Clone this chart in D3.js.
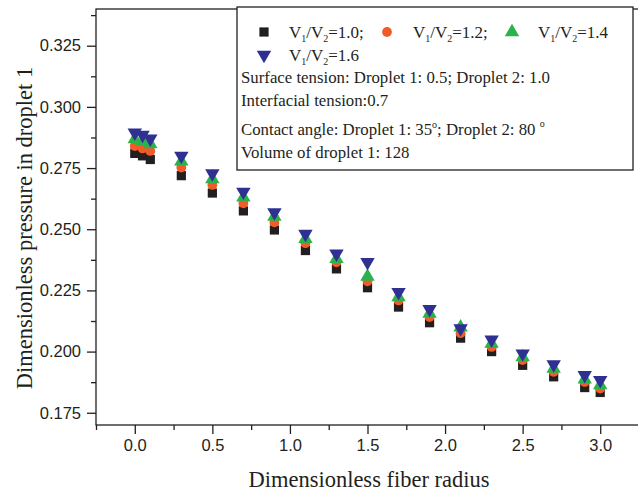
<!DOCTYPE html>
<html><head><meta charset="utf-8">
<script src="https://cdn.jsdelivr.net/npm/d3@7/dist/d3.min.js"></script>
<style>body{margin:0;background:#fff}svg{display:block}</style>
</head><body><svg id="c" width="638" height="494"></svg>
<script>
const radius = [0, 0.05, 0.1, 0.3, 0.5, 0.7, 0.9, 1.1, 1.3, 1.5, 1.7, 1.9, 2.1, 2.3, 2.5, 2.7, 2.9, 3.0];
const ratio10 = [0.2810, 0.2800, 0.2785, 0.2719, 0.2648, 0.2575, 0.2497, 0.2413, 0.2338, 0.2261, 0.2182, 0.2118, 0.2055, 0.2000, 0.1944, 0.1897, 0.1853, 0.1833];
const ratio12 = [0.2840, 0.2830, 0.2820, 0.2752, 0.2681, 0.2606, 0.2528, 0.2443, 0.2365, 0.2287, 0.2209, 0.2141, 0.2075, 0.2019, 0.1965, 0.1917, 0.1876, 0.1849];
const ratio14 = [0.2868, 0.2858, 0.2848, 0.2777, 0.2705, 0.2630, 0.2552, 0.2461, 0.2379, 0.2307, 0.2223, 0.2155, 0.2099, 0.2033, 0.1978, 0.1931, 0.1887, 0.1863];
const ratio16 = [0.2895, 0.2885, 0.2870, 0.2800, 0.2728, 0.2653, 0.2569, 0.2481, 0.2400, 0.2365, 0.2243, 0.2173, 0.2095, 0.2049, 0.1992, 0.1948, 0.1904, 0.1883];
const xTicks = [0.0, 0.5, 1.0, 1.5, 2.0, 2.5, 3.0];
const yTicks = [0.175, 0.200, 0.225, 0.250, 0.275, 0.300, 0.325];
const seriesLabels = ["1.0;", "1.2;", "1.4", "1.6"];
const noteLines = ["Surface tension: Droplet 1: 0.5; Droplet 2: 1.0", "Interfacial tension:0.7"];
const volumeLine = "Volume of droplet 1: 128";

const svg = d3.select("#c");
const L = 96, R = 639, T = 9, B = 425;
const x = d3.scaleLinear().domain([-0.25, 3.25]).range([L, R]);
const y = d3.scaleLinear().domain([0.17, 0.34]).range([B, T]);
const ink = "#231f20";
const serif = "Liberation Serif, Times New Roman, serif";

svg.append("rect").attr("x", L).attr("y", T).attr("width", R - L).attr("height", B - T)
  .attr("fill", "none").attr("stroke", ink).attr("stroke-width", 1.3);

const xMinor = d3.range(-0.25, 3.26, 0.25).filter(v => Math.abs(v * 2 - Math.round(v * 2)) > 1e-6);
const gx = svg.append("g").attr("transform", `translate(0,${B})`);
gx.call(d3.axisBottom(x).tickValues(xTicks).tickFormat(d3.format(".1f")).tickSize(9).tickPadding(5));
gx.append("g").call(d3.axisBottom(x).tickValues(xMinor).tickFormat("").tickSize(5));
const yMinor = d3.range(0.1875, 0.34, 0.025);
const gy = svg.append("g").attr("transform", `translate(${L},0)`);
gy.call(d3.axisLeft(y).tickValues(yTicks).tickFormat(d3.format(".3f")).tickSize(9).tickPadding(6));
gy.append("g").call(d3.axisLeft(y).tickValues(yMinor).tickFormat("").tickSize(5));
svg.selectAll(".domain").remove();
svg.selectAll(".tick line").attr("stroke", ink).attr("stroke-width", 1.3);
svg.selectAll(".tick text").attr("fill", "#231f20").style("font-family", "Liberation Sans, Arial, sans-serif").style("font-size", "16.5px");

svg.append("text").attr("x", 369).attr("y", 487).attr("text-anchor", "middle")
  .style("font-family", serif).style("font-size", "22.5px").attr("fill", ink)
  .text("Dimensionless fiber radius");
svg.append("text").attr("transform", "translate(32,228) rotate(-90)").attr("text-anchor", "middle")
  .style("font-family", serif).style("font-size", "22.5px").attr("fill", ink)
  .text("Dimensionless pressure in droplet 1");

const colors = [ink, "#f15a29", "#2bb34b", "#2e3192"];
const shapes = [d3.symbolSquare, d3.symbolCircle, d3.symbolTriangle, d3.symbolTriangle];
const sizes = [85, 75, 90, 90];
const allSeries = [ratio10, ratio12, ratio14, ratio16];
allSeries.forEach((vals, i) => {
  const sym = d3.symbol().type(shapes[i]).size(sizes[i]);
  svg.append("g").selectAll("path").data(radius).join("path")
    .attr("d", sym)
    .attr("transform", (d, j) => `translate(${x(d)},${y(vals[j])})${i === 3 ? " rotate(180)" : ""}`)
    .attr("fill", colors[i]);
});

const lg = svg.append("g").style("font-family", serif).attr("fill", ink);
lg.append("rect").attr("x", 237).attr("y", 7).attr("width", 396).attr("height", 163)
  .attr("fill", "#fff").attr("stroke", ink).attr("stroke-width", 1.3);
const items = [[264, 32, 289], [387, 32, 413], [512, 32, 538], [264, 55, 289]];
items.forEach((it, i) => {
  const sym = d3.symbol().type(shapes[i]).size(sizes[i]);
  lg.append("path").attr("d", sym).attr("fill", colors[i])
    .attr("transform", `translate(${it[0]},${it[1]})${i === 3 ? " rotate(180)" : ""}`);
  const t = lg.append("text").attr("x", it[2]).attr("y", it[1] + 6).style("font-size", "17px");
  t.append("tspan").text("V");
  t.append("tspan").attr("dy", 4).style("font-size", "10px").text("1");
  t.append("tspan").attr("dy", -4).text("/V");
  t.append("tspan").attr("dy", 4).style("font-size", "10px").text("2");
  t.append("tspan").attr("dy", -4).text("=" + seriesLabels[i]);
});
noteLines.forEach((s, i) => {
  lg.append("text").attr("x", 241).attr("y", [83, 106][i]).style("font-size", "16.8px").text(s);
});
const ca = lg.append("text").attr("x", 241).attr("y", 135).style("font-size", "16.8px");
ca.append("tspan").text("Contact angle: Droplet 1: 35");
ca.append("tspan").attr("dy", -7).style("font-size", "10px").text("o");
ca.append("tspan").attr("dy", 7).text("; Droplet 2: 80 ");
ca.append("tspan").attr("dy", -8).style("font-size", "10px").text("o");
lg.append("text").attr("x", 241).attr("y", 158).style("font-size", "16.8px").text(volumeLine);
</script></body></html>
